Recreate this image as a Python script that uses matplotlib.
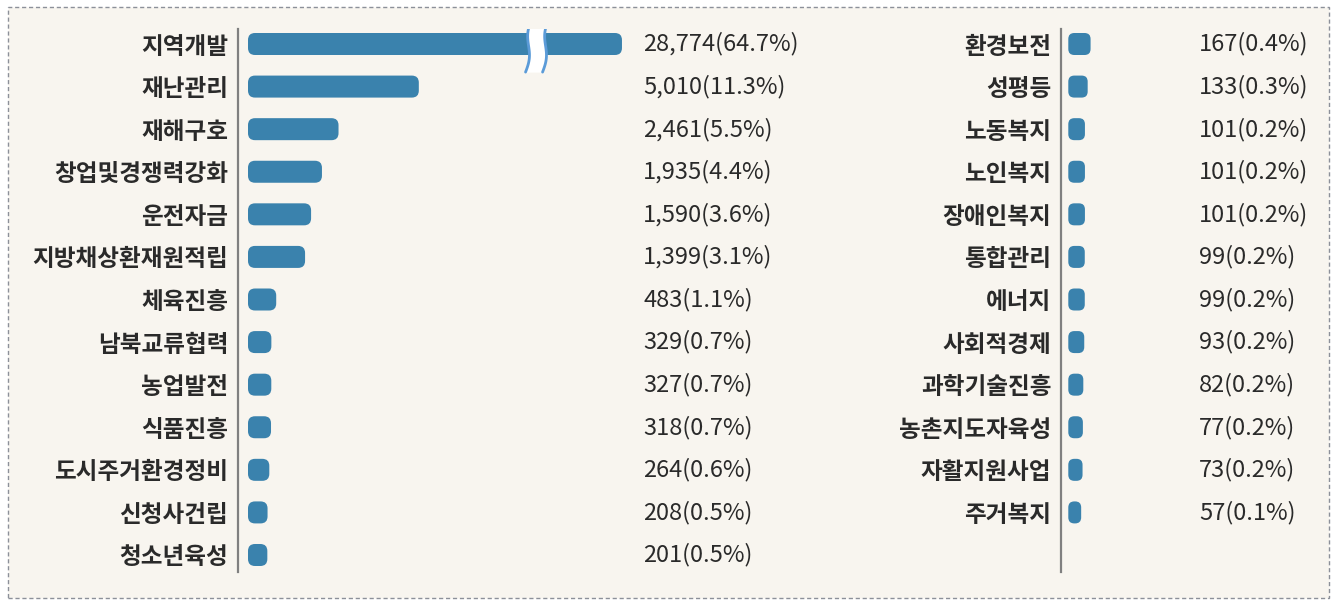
import matplotlib
matplotlib.use('Agg')
import matplotlib.pyplot as plt
from matplotlib.patches import FancyBboxPatch, Rectangle
from matplotlib.transforms import blended_transform_factory
import numpy as np

plt.rcParams['font.family'] = ['Noto Sans CJK KR', 'DejaVu Sans']

# ---------------- data ----------------
left_cats = ['지역개발', '재난관리', '재해구호', '창업및경쟁력강화', '운전자금', '지방채상환재원적립',
             '체육진흥', '남북교류협력', '농업발전', '식품진흥', '도시주거환경정비', '신청사건립', '청소년육성']
left_vals = [28774, 5010, 2461, 1935, 1590, 1399, 483, 329, 327, 318, 264, 208, 201]
left_pcts = [64.7, 11.3, 5.5, 4.4, 3.6, 3.1, 1.1, 0.7, 0.7, 0.7, 0.6, 0.5, 0.5]

right_cats = ['환경보전', '성평등', '노동복지', '노인복지', '장애인복지', '통합관리', '에너지',
              '사회적경제', '과학기술진흥', '농촌지도자육성', '자활지원사업', '주거복지']
right_vals = [167, 133, 101, 101, 101, 99, 99, 93, 82, 77, 73, 57]
right_pcts = [0.4, 0.3, 0.2, 0.2, 0.2, 0.2, 0.2, 0.2, 0.2, 0.2, 0.2, 0.1]

# broken-axis settings for the very long first bar
BREAK_AT = 8970
COMPRESS = 0.1257

# ---------------- style ----------------
W, H, DPI = 1334, 602, 100
BG = '#f8f5ef'
BAR = '#3a82ad'
BREAK_LINE = '#5b9bd8'
TXT = '#2a2a2a'
AXC = '#808080'
ROW_PX = 42.58
TOP_PX, BOT_PX = 29, 572

fig = plt.figure(figsize=(W / DPI, H / DPI), dpi=DPI)
fig.patch.set_facecolor('white')
fig.add_artist(Rectangle((8 / W, 1 - 598 / H), (1329 - 8) / W, (598 - 7) / H,
                         transform=fig.transFigure, facecolor=BG, edgecolor='#8c9099',
                         linestyle=(0, (3, 2)), linewidth=1.0, zorder=0))


def display_values(vals):
    v = np.asarray(vals, dtype=float)
    return np.where(v > BREAK_AT, BREAK_AT + (v - BREAK_AT) * COMPRESS, v)


def panel(axis_px, data0_px, right_px, k, pad_px, rad_px, cats, vals, pcts, disp):
    ax = fig.add_axes([axis_px / W, 1 - BOT_PX / H, (right_px - axis_px) / W, (BOT_PX - TOP_PX) / H])
    ax.set_facecolor('none')
    top = -(44 - TOP_PX) / ROW_PX
    bot = 12 + (BOT_PX - 555) / ROW_PX
    ax.set_ylim(bot, top)
    ax.set_xlim((axis_px - data0_px) / k, (right_px - data0_px) / k)
    aspect = k / ROW_PX
    pad = pad_px / k
    rad = rad_px / k
    hh = (22 - 2 * pad_px) / ROW_PX
    for i, dv in enumerate(disp):
        p = FancyBboxPatch((0, i - hh / 2), dv, hh,
                           boxstyle=f"round,pad={pad},rounding_size={rad}",
                           mutation_aspect=aspect, facecolor=BAR, edgecolor='none', zorder=2)
        ax.add_patch(p)
    ax.set_yticks(range(len(cats)))
    ax.set_yticklabels(cats, fontsize=17, fontweight='bold', color=TXT)
    ax.tick_params(axis='y', length=0, pad=7.0)
    ax.set_xticks([])
    for s in ['top', 'right', 'bottom']:
        ax.spines[s].set_visible(False)
    ax.spines['left'].set_color(AXC)
    ax.spines['left'].set_linewidth(1.6)
    tr = blended_transform_factory(ax.transAxes, ax.transData)
    for i, (v, pc) in enumerate(zip(vals, pcts)):
        ax.text(1.0, i, f"{v:,}({pc}%)", transform=tr, ha='left', va='center',
                fontsize=17, color=TXT)
    return ax


kL = 0.0315
axL = panel(238, 254.5, 643, kL, 6.5, 7, left_cats, left_vals, left_pcts, display_values(left_vals))

# break marker on the first bar
c = BREAK_AT
t = np.linspace(-1, 1, 80)
yy = t * 0.62 + 0.04
def xs(side):
    return c + (side * 8.5 + 2.2 * np.sin(np.pi * t) - 3.0 * t) / kL
axL.fill_betweenx(yy, xs(-1), xs(1), color='white', zorder=3, lw=0)
axL.plot(xs(-1), yy, color=BREAK_LINE, lw=2.0, zorder=4, solid_capstyle='round')
axL.plot(xs(1), yy, color=BREAK_LINE, lw=2.0, zorder=4, solid_capstyle='round')

kR = 0.0855
panel(1061, 1072.3, 1199, kR, 4.0, 6, right_cats, right_vals, right_pcts, display_values(right_vals))

fig.savefig('out.png', dpi=DPI, facecolor=fig.get_facecolor())
